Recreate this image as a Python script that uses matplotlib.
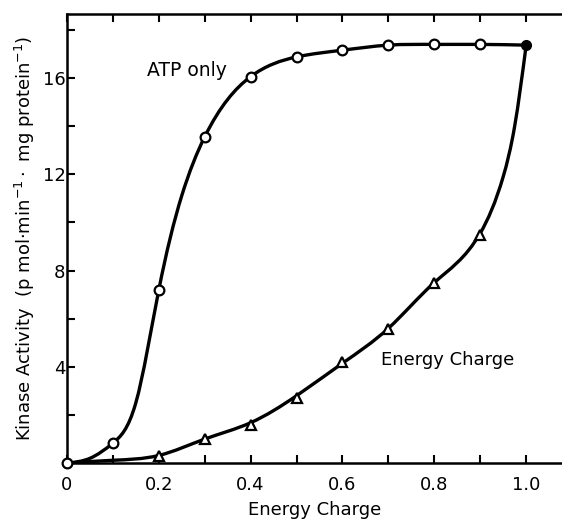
import matplotlib.pyplot as plt
import numpy as np
from matplotlib.path import Path
from matplotlib.patches import PathPatch
from matplotlib.ticker import MultipleLocator, FixedLocator

# measured points, ATP only (circles)
atp_x = [0.0, 0.1, 0.2, 0.3, 0.4, 0.5, 0.6, 0.7, 0.8, 0.9, 1.0]
atp_y = [0.0, 0.83, 7.18, 13.55, 16.05, 16.87, 17.15, 17.36, 17.39, 17.39, 17.36]

# measured points, energy charge (triangles)
ec_x = [0.2, 0.3, 0.4, 0.5, 0.6, 0.7, 0.8, 0.9]
ec_y = [0.30, 1.02, 1.58, 2.70, 4.20, 5.56, 7.49, 9.47]

# hand drawn curves, nodes
atp_line_x = [0.0, 0.05, 0.1, 0.15, 0.2, 0.25, 0.3, 0.4, 0.5, 0.6, 0.7, 0.8, 0.9, 1.0]
atp_line_y = [0.0, 0.2, 0.83, 2.5, 7.18, 11.1, 13.55, 16.05, 16.87, 17.15, 17.36, 17.39, 17.39, 17.36]
ec_line_x = [0.0, 0.1, 0.2, 0.3, 0.4, 0.5, 0.6, 0.7, 0.8, 0.9, 0.95, 0.975, 1.0]
ec_line_y = [0.0, 0.12, 0.32, 1.0, 1.68, 2.8, 4.15, 5.6, 7.5, 9.55, 11.9, 14.0, 17.36]

x_ticks = [0.0, 0.2, 0.4, 0.6, 0.8, 1.0]
x_labels = ["0", "0.2", "0.4", "0.6", "0.8", "1.0"]
y_ticks = [4, 8, 12, 16]


def smooth_path(xs, ys):
    # natural cubic spline through the nodes, drawn as bezier segments
    x = np.asarray(xs, float)
    y = np.asarray(ys, float)
    n = len(x)
    h = np.diff(x)
    A = np.zeros((n, n))
    b = np.zeros(n)
    A[0, 0] = A[-1, -1] = 1.0
    for i in range(1, n - 1):
        A[i, i - 1] = h[i - 1]
        A[i, i] = 2 * (h[i - 1] + h[i])
        A[i, i + 1] = h[i]
        b[i] = 6 * ((y[i + 1] - y[i]) / h[i] - (y[i] - y[i - 1]) / h[i - 1])
    M = np.linalg.solve(A, b)
    # first derivatives at nodes
    m = np.zeros(n)
    for i in range(n - 1):
        m[i] = (y[i + 1] - y[i]) / h[i] - h[i] * (2 * M[i] + M[i + 1]) / 6
    m[-1] = (y[-1] - y[-2]) / h[-1] + h[-1] * (M[-2] + 2 * M[-1]) / 6
    verts = [(x[0], y[0])]
    codes = [Path.MOVETO]
    for i in range(n - 1):
        verts += [(x[i] + h[i] / 3, y[i] + m[i] * h[i] / 3),
                  (x[i + 1] - h[i] / 3, y[i + 1] - m[i + 1] * h[i] / 3),
                  (x[i + 1], y[i + 1])]
        codes += [Path.CURVE4] * 3
    return Path(verts, codes)


fig = plt.figure(figsize=(5.62, 5.21), dpi=100)
ax = fig.add_axes([0.119, 0.111, 0.881, 0.862])

ax.add_patch(PathPatch(smooth_path(atp_line_x, atp_line_y), facecolor="none",
                       edgecolor="black", lw=2.4, capstyle="round", zorder=2))
ax.add_patch(PathPatch(smooth_path(ec_line_x, ec_line_y), facecolor="none",
                       edgecolor="black", lw=2.4, capstyle="round", zorder=2))

ax.plot(atp_x[:-1], atp_y[:-1], "o", ms=7, mfc="white", mec="black", mew=1.6,
        zorder=3, clip_on=False)
ax.plot(atp_x[-1], atp_y[-1], "o", ms=7, mfc="black", mec="black", zorder=3)
ax.plot(ec_x, ec_y, "^", ms=7, mfc="white", mec="black", mew=1.6, zorder=3)

ax.set_xlim(0, 1.078)
ax.set_ylim(0, 18.65)

ax.xaxis.set_major_locator(FixedLocator(x_ticks))
ax.set_xticklabels(x_labels)
ax.xaxis.set_minor_locator(MultipleLocator(0.1))
ax.yaxis.set_major_locator(FixedLocator(y_ticks))
ax.yaxis.set_minor_locator(MultipleLocator(2))

ax.tick_params(which="both", direction="in", top=True, right=False,
               length=6, width=1.5, labelsize=13)
ax.tick_params(axis="x", pad=9)
ax.tick_params(axis="y", pad=1)

ax.spines["right"].set_visible(False)
for s in ["left", "bottom", "top"]:
    ax.spines[s].set_linewidth(1.8)

ax.text(0.174, 16.3, "ATP only", fontsize=13.5, ha="left", va="center")
ax.text(0.684, 4.28, "Energy Charge", fontsize=13, ha="left", va="center")

ax.set_xlabel("Energy Charge", fontsize=13, labelpad=5.5)
ax.set_ylabel(r"Kinase Activity  (p mol$\cdot$min$^{-1}\cdot$ mg protein$^{-1}$)",
              fontsize=13, labelpad=4)

plt.savefig("out.png", dpi=100)
